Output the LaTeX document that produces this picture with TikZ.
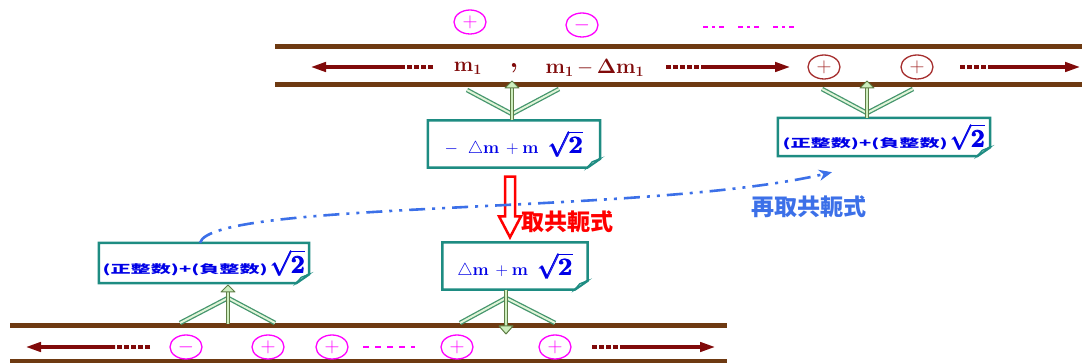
\documentclass[tikz,border=0pt]{standalone}
\usepackage{amsmath,amssymb}
\usepackage{graphicx}
\usepackage[no-math]{fontspec}
\usepackage{tikz}
\usetikzlibrary{shapes.geometric,arrows.meta,calc}
\newfontfamily\cjk{Noto Sans CJK TC}

\definecolor{chanbrown}{RGB}{110,58,18}
\definecolor{flowred}{RGB}{128,10,10}
\definecolor{signmag}{RGB}{255,0,255}
\definecolor{signred}{RGB}{165,45,45}
\definecolor{boxteal}{RGB}{30,140,130}
\definecolor{textblue}{RGB}{0,0,230}
\definecolor{curveblue}{RGB}{60,112,232}
\definecolor{stemdark}{RGB}{95,125,70}
\definecolor{stemlight}{RGB}{205,238,190}
\definecolor{branchdark}{RGB}{70,150,110}

\newcommand\rootii{\fontsize{26}{26}\selectfont$\pmb{\sqrt{\mathbf{2}}}$}
\newcommand\zhsum{\scalebox{1.75}[1]{\cjk\bfseries\fontsize{11.5}{12}\selectfont (正整数)+(負整数)}\,\rootii}
\newcommand\noteframe[1]{%
  \draw[boxline] (#1.north west) -- (#1.north east) -- ([yshift=9pt]#1.south east)
    -- ([xshift=-13pt]#1.south east) -- (#1.south west) -- cycle;
  \draw[boxline, line width=1.2pt, fill=boxteal!35] ([xshift=-13pt]#1.south east)
    -- ([xshift=-8pt,yshift=6pt]#1.south east) -- ([yshift=9pt]#1.south east) -- cycle;}

\tikzset{
  channel/.style={line width=5pt, draw=chanbrown},
  flow/.style={line width=4pt, draw=flowred},
  flowdash/.style={flow, dash pattern=on 5pt off 2pt},
  flowtip/.style={-{Triangle[length=16pt,width=9pt]}},
  flowtext/.style={text=flowred, inner sep=0pt, font=\fontsize{21}{21}\selectfont},
  sign/.style={ellipse, draw=#1, text=#1, line width=1.3pt, minimum width=32pt,
    minimum height=24pt, inner sep=0pt, font=\fontsize{20}{20}\selectfont},
  magdots/.style={draw=signmag, line width=2.5pt, dash pattern=on 5pt off 4pt on 3pt off 4pt on 5pt off 14pt},
  notebox/.style={fill=white, text=textblue, inner sep=0pt, font=\fontsize{18}{18}\selectfont},
  boxline/.style={draw=boxteal, line width=2.5pt, line join=miter},
  stem/.style={draw=stemdark, double=stemlight, line width=1pt, double distance=2.5pt},
  stemhead/.style={draw=stemdark, fill=stemlight, line width=1pt, line join=round},
  branch/.style={draw=branchdark, double=stemlight!60, line width=1.3pt, double distance=2pt},
  redarrow/.style={draw=red, fill=white, line width=2.5pt, line join=miter},
  redlabel/.style={text=red, inner sep=0pt, font=\cjk\bfseries\fontsize{23}{23}\selectfont},
  bluelabel/.style={text=curveblue, inner sep=0pt, font=\cjk\bfseries\fontsize{23}{23}\selectfont},
  conjcurve/.style={draw=curveblue, line width=2.6pt,
    dash pattern=on 16pt off 7pt on 3pt off 7pt on 3pt off 7pt,
    -{Stealth[length=13pt,width=11pt]}}
}

\begin{document}
\begin{tikzpicture}[x=1pt, y=-1pt]
  \useasboundingbox (0,0) rectangle (1082,363);

  % channels
  \draw[channel] (275,47) -- (1082,47);
  \draw[channel] (275,85) -- (1082,85);
  \draw[channel] (10,326) -- (727,326);
  \draw[channel] (10,362) -- (727,362);

  % signs above the top channel
  \node[sign=signmag] (tp1) at (470,22) {$+$};
  \node[sign=signmag] (tm1) at (582,25) {$-$};
  \draw[magdots] (703,27) -- (800,27);

  % top channel contents
  \node[flowtext] (m1) at (468,68) {$\mathbf{m_1}$};
  \node[flowtext, font=\fontsize{28}{28}\selectfont, anchor=base] (comma) at (514,68) {\textbf{,}};
  \node[flowtext] (m1d) at (595,68) {$\mathbf{m_1\,{-}\,\Delta m_1}$};
  \draw[flowdash] (433,67) -- (401,67);
  \draw[flow, flowtip] (401,67) -- (310,67);
  \draw[flowdash] (666,67) -- (701,67);
  \draw[flow, flowtip] (701,67) -- (791,67);
  \node[sign=signred] (tp2) at (824,67) {$+$};
  \node[sign=signred] (tp3) at (917,67) {$+$};
  \draw[flowdash] (960,67) -- (993,67);
  \draw[flow, flowtip] (993,67) -- (1081,67);

  % bottom channel contents
  \draw[flowdash] (150,347) -- (115,347);
  \draw[flow, flowtip] (115,347) -- (25,347);
  \node[sign=signmag] (bm1) at (186,347) {$-$};
  \node[sign=signmag] (bp1) at (268,347) {$+$};
  \node[sign=signmag] (bp2) at (332,347) {$+$};
  \draw[draw=signmag, line width=2.5pt, dash pattern=on 6pt off 6pt] (363,347) -- (415,347);
  \node[sign=signmag] (bp3) at (457,347) {$+$};
  \node[sign=signmag] (bp4) at (555,347) {$+$};
  \draw[flowdash] (592,347) -- (623,347);
  \draw[flow, flowtip] (623,347) -- (716,347);

  % boxes
  \node[notebox, minimum width=172pt, minimum height=47pt] (b1) at (514,144)
    {$-\;\;\triangle\mathbf{m}\,+\mathbf{m}$\;\;\rootii};
  \node[notebox, minimum width=212pt, minimum height=38pt] (b2) at (884,137) {\zhsum};
  \node[notebox, minimum width=210pt, minimum height=40pt] (b3) at (204,263) {\zhsum};
  \node[notebox, minimum width=145pt, minimum height=47pt] (b4) at (515,266)
    {$\triangle\mathbf{m}\,+\mathbf{m}$\;\;\rootii};
  \foreach \b in {b1,b2,b3,b4} {\noteframe{\b}}

  % joints between boxes and channels
  \coordinate (j1) at (512,81);
  \draw[branch] (512,114) -- (467,90);
  \draw[branch] (512,114) -- (559,89);
  \draw[stem] (b1.north -| j1) -- ($(j1)+(0,7)$);
  \filldraw[stemhead] ($(j1)+(-7,7)$) -- (j1) -- ($(j1)+(7,7)$) -- cycle;

  \coordinate (j2) at (867,81);
  \draw[branch] (867,113) -- (822,89);
  \draw[branch] (867,113) -- (913,89);
  \draw[stem] (b2.north -| j2) -- ($(j2)+(0,7)$);
  \filldraw[stemhead] ($(j2)+(-7,7)$) -- (j2) -- ($(j2)+(7,7)$) -- cycle;

  \coordinate (j3) at (228,285);
  \draw[branch] (228,298) -- (180,323);
  \draw[branch] (228,298) -- (275,323);
  \draw[stem] (228,324) -- ($(j3)+(0,7)$);
  \filldraw[stemhead] ($(j3)+(-7,7)$) -- (j3) -- ($(j3)+(7,7)$) -- cycle;

  \coordinate (j4) at (506,334);
  \draw[branch] (506,298) -- (460,323);
  \draw[branch] (506,298) -- (555,323);
  \draw[stem] (b4.south -| j4) -- ($(j4)+(0,-8)$);
  \filldraw[stemhead] ($(j4)+(-7,-8)$) -- (j4) -- ($(j4)+(7,-8)$) -- cycle;

  % conjugate step
  \draw[redarrow] ($(b1.south)+(-9,9)$) -- ($(b1.south)+(1,9)$) -- ($(b4.north)+(0,-26)$)
    -- ($(b4.north)+(6,-26)$) -- ($(b4.north)+(-5,-5)$) -- ($(b4.north)+(-16,-26)$)
    -- ($(b4.north)+(-10,-26)$) -- cycle;
  \node[redlabel, anchor=west] (lab1) at (521,222) {取共軛式};

  % second conjugate
  \draw[conjcurve] ($(b3.north)+(-4,0)$) .. controls (212,200) and (650,215) .. ($(b2.south)+(-52,16)$);
  \node[bluelabel, anchor=west] (lab2) at (751,207) {再取共軛式};
\end{tikzpicture}
\end{document}
